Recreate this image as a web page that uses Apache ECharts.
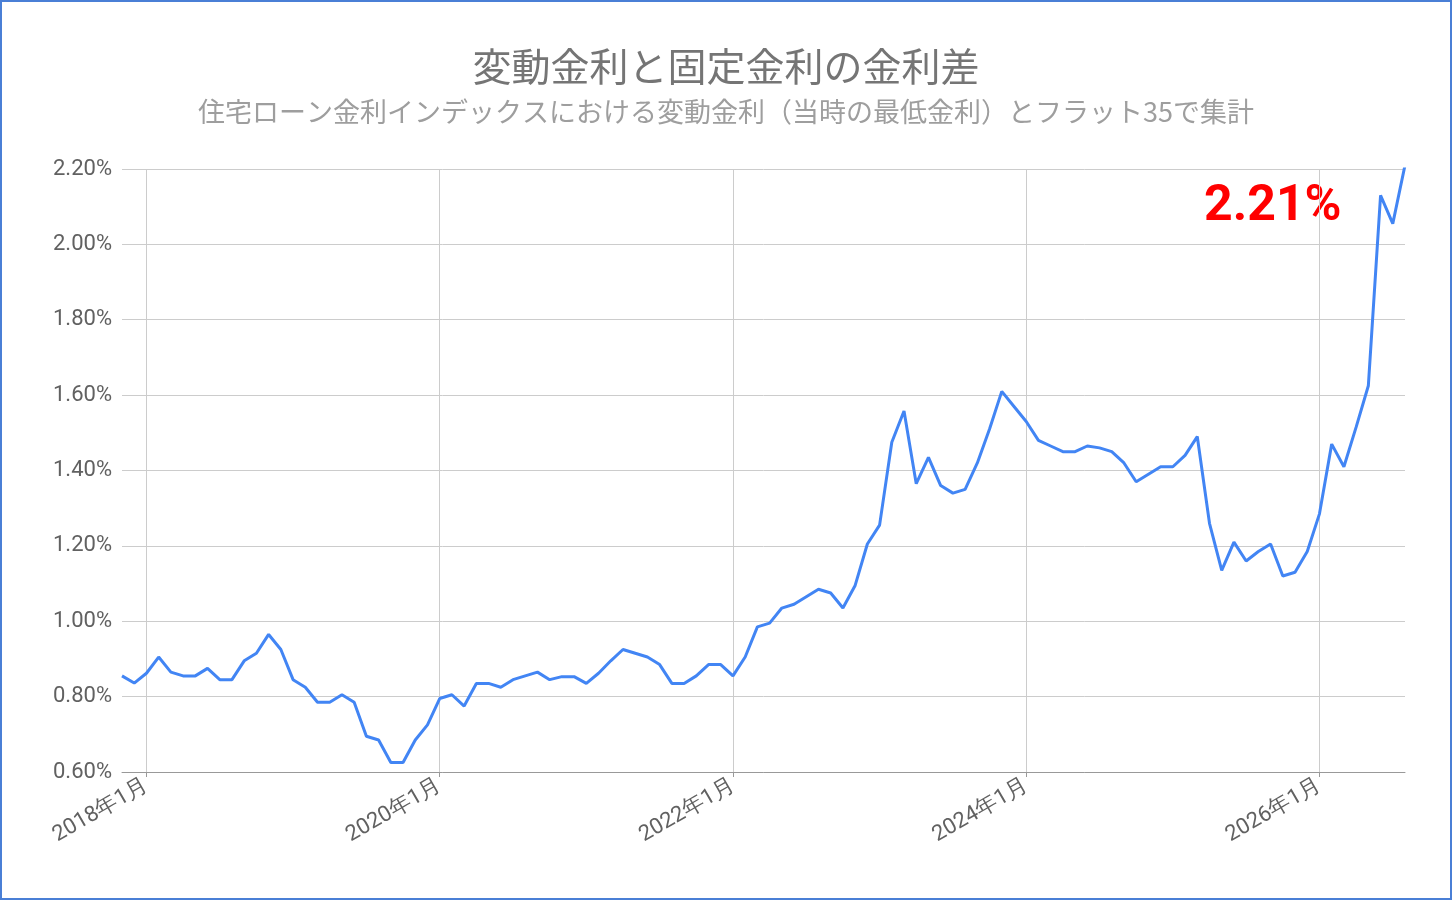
<!DOCTYPE html>
<html><head><meta charset="utf-8">
<script src="https://cdn.jsdelivr.net/npm/echarts@6/dist/echarts.min.js"></script>
<style>html,body{margin:0;padding:0;background:#fff}#c{width:1448px;height:896px;border:2px solid #4a7fd6}</style>
</head><body><div id="c"></div>
<script>
// months from 2017-11 to 2026-08
const startYear = 2017, startMonth = 11;
const values = [0.855,0.836,0.862,0.905,0.865,0.855,0.855,0.875,0.845,0.845,0.895,0.915,0.965,0.925,0.845,0.825,0.785,0.785,0.805,0.785,0.695,0.685,0.625,0.625,0.685,0.725,0.795,0.805,0.775,0.835,0.835,0.825,0.845,0.855,0.865,0.845,0.853,0.853,0.835,0.862,0.895,0.925,0.915,0.905,0.885,0.835,0.835,0.855,0.885,0.885,0.855,0.905,0.985,0.995,1.035,1.045,1.065,1.085,1.075,1.035,1.095,1.205,1.255,1.475,1.558,1.365,1.435,1.36,1.34,1.35,1.42,1.51,1.61,1.57,1.53,1.48,1.465,1.45,1.45,1.465,1.46,1.45,1.42,1.37,1.39,1.41,1.41,1.44,1.49,1.26,1.135,1.21,1.16,1.185,1.205,1.12,1.13,1.185,1.285,1.47,1.41,1.515,1.625,2.13,2.055,2.21];
const categories = values.map((v,i)=>{const t=(startMonth-1)+i;return (startYear+Math.floor(t/12))+'年'+(t%12+1)+'月';});
const yTicks = {min:0.6,max:2.2,interval:0.2};
const isJan = (i)=>/年1月$/.test(categories[i]) && (parseInt(categories[i])%2===0);
const chart = echarts.init(document.getElementById('c'));
chart.setOption({
  animation:false,
  title:{text:'変動金利と固定金利の金利差',subtext:'住宅ローン金利インデックスにおける変動金利（当時の最低金利）とフラット35で集計',left:'center',top:40,
    textStyle:{fontSize:39,color:'#757575',fontWeight:'normal',fontFamily:'Noto Sans CJK JP'},
    subtextStyle:{fontSize:27,color:'#9e9e9e',fontFamily:'Noto Sans CJK JP'},itemGap:12},
  grid:{left:120,right:45,top:167,bottom:126,containLabel:false},
  xAxis:{type:'category',data:categories,boundaryGap:false,
    axisLine:{lineStyle:{color:'#999'}},axisTick:{show:true,interval:(i)=>isJan(i),length:5,lineStyle:{color:'#999'}},
    axisLabel:{interval:(i)=>isJan(i),rotate:30,fontSize:22,color:'#616161',fontFamily:'Roboto',margin:12},
    splitLine:{show:true,interval:(i)=>isJan(i),lineStyle:{color:'#ccc'}}},
  yAxis:{type:'value',min:yTicks.min,max:yTicks.max,interval:yTicks.interval,
    axisLabel:{formatter:v=>v.toFixed(2)+'%',fontSize:22,color:'#616161',fontFamily:'Roboto',margin:10},
    splitLine:{lineStyle:{color:'#ccc'}},axisLine:{show:false}},
  series:[{type:'line',data:values,showSymbol:false,lineStyle:{color:'#4285f4',width:3},itemStyle:{color:'#4285f4'}}],
  graphic:[{type:'text',left:1202,top:180,style:{text:'2.21%',fontSize:50,fontWeight:'bold',fill:'#ff0000',fontFamily:'Roboto'}}]
});
</script></body></html>
